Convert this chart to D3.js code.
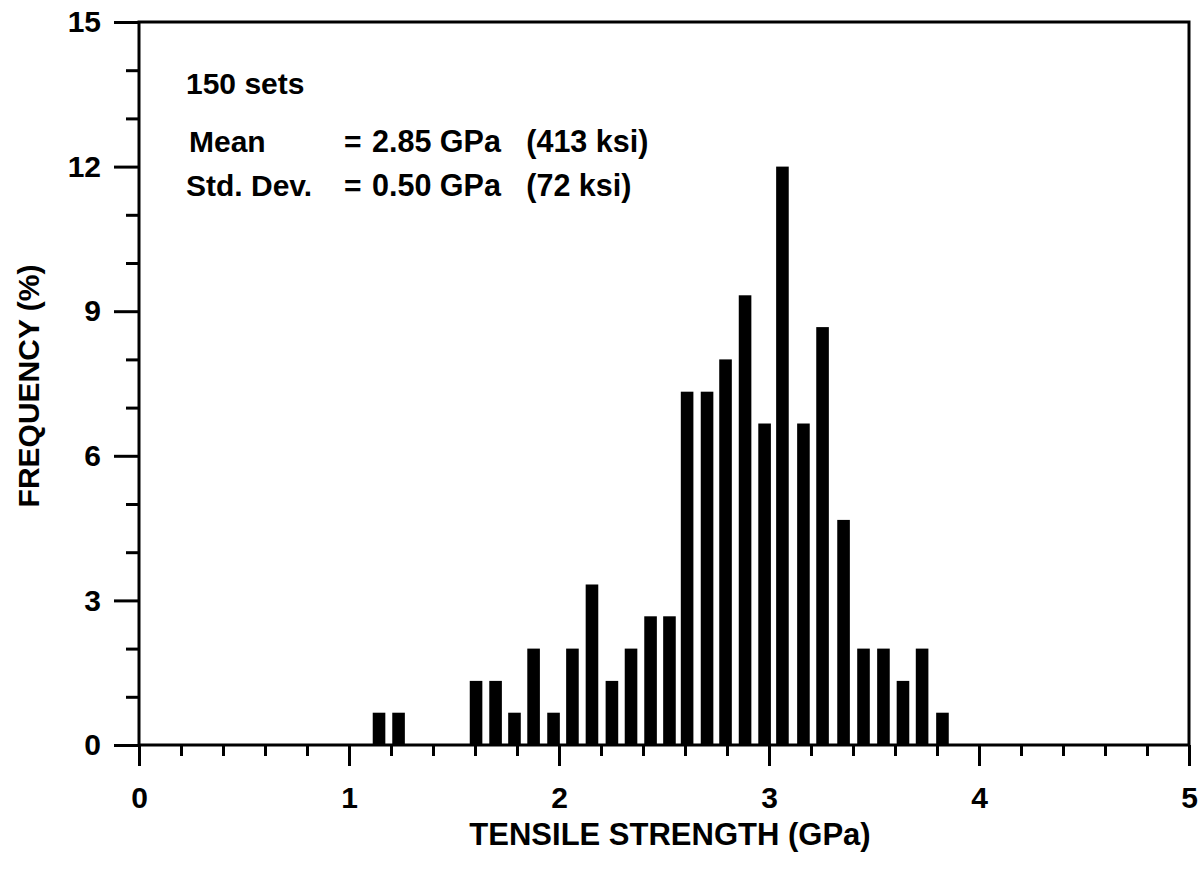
<!DOCTYPE html>
<html>
<head>
<meta charset="utf-8">
<script src="https://cdn.jsdelivr.net/npm/d3@7"></script>
<style>
  html, body { margin: 0; padding: 0; background: #fff; }
  svg { display: block; }
  text { font-family: "Liberation Sans", Arial, Helvetica, sans-serif; font-weight: bold; fill: #000; }
</style>
</head>
<body>
<svg id="chart" width="1200" height="875"></svg>
<script>
// ---- data ----
const binCenters = [1.143, 1.236, 1.605, 1.698, 1.788, 1.879, 1.974, 2.064, 2.157, 2.252,
  2.343, 2.436, 2.526, 2.610, 2.705, 2.793, 2.886, 2.979, 3.064, 3.164,
  3.255, 3.355, 3.450, 3.545, 3.638, 3.729, 3.826];
const frequency = [0.67, 0.67, 1.33, 1.33, 0.67, 2.00, 0.67, 2.00, 3.33, 1.33,
  2.00, 2.67, 2.67, 7.33, 7.33, 8.00, 9.33, 6.67, 12.00, 6.67,
  8.67, 4.67, 2.00, 2.00, 1.33, 2.00, 0.67];
const xMajorTicks = [0, 1, 2, 3, 4, 5];
const xMinorTicks = [0.2,0.4,0.6,0.8,1.2,1.4,1.6,1.8,2.2,2.4,2.6,2.8,3.2,3.4,3.6,3.8,4.2,4.4,4.6,4.8];
const yMajorTicks = [0, 3, 6, 9, 12, 15];
const yMinorTicks = [1, 2, 4, 5, 7, 8, 10, 11, 13, 14];
const statLabels = ["150 sets", "Mean", "Std. Dev."];
const statValues = ["", "2.85 GPa   (413 ksi)", "0.50 GPa   (72 ksi)"];
const xTitle = "TENSILE STRENGTH (GPa)";
const yTitle = "FREQUENCY (%)";
const binWidth = 0.06;

// ---- layout ----
const svg = d3.select("#chart");
const x = d3.scaleLinear().domain([0, 5]).range([139, 1189]);
const y = d3.scaleLinear().domain([0, 15]).range([745, 22]);
const FONT = "'Liberation Sans', Arial, sans-serif";

// bars
svg.append("g").selectAll("rect")
  .data(binCenters.map((c, i) => ({ c, v: frequency[i] })))
  .join("rect")
  .attr("x", d => x(d.c - binWidth / 2))
  .attr("width", d => x(d.c + binWidth / 2) - x(d.c - binWidth / 2))
  .attr("y", d => y(d.v))
  .attr("height", d => y(0) - y(d.v))
  .attr("fill", "#000");

function styleAxis(g) {
  g.selectAll(".tick line").attr("stroke", "#000").attr("stroke-width", 3);
  g.select(".domain").remove();
  g.attr("font-size", null).attr("font-family", null);
  g.selectAll(".tick text").style("font-size", "30px").style("font-family", FONT)
    .style("font-weight", "bold").attr("fill", "#000");
}

// x axis
svg.append("g").attr("transform", `translate(0,${y(0)})`)
  .call(d3.axisBottom(x).tickValues(xMinorTicks).tickSize(11).tickFormat(""))
  .call(styleAxis);
svg.append("g").attr("transform", `translate(0,${y(0)})`)
  .call(d3.axisBottom(x).tickValues(xMajorTicks).tickSize(21).tickPadding(21).tickFormat(d3.format("d")))
  .call(styleAxis);

// y axis
svg.append("g").attr("transform", `translate(${x(0)},0)`)
  .call(d3.axisLeft(y).tickValues(yMinorTicks).tickSize(13).tickFormat(""))
  .call(styleAxis);
svg.append("g").attr("transform", `translate(${x(0)},0)`)
  .call(d3.axisLeft(y).tickValues(yMajorTicks).tickSize(25).tickPadding(13).tickFormat(d3.format("d")))
  .call(styleAxis);

// frame
const [x0, x1] = x.range();
const [y0, y1] = y.range();
svg.append("path")
  .attr("d", `M${x0},${y0}H${x1}V${y1}H${x0}Z`)
  .attr("fill", "none").attr("stroke", "#000").attr("stroke-width", 3);

// stats text
const statY = [94, 152, 196];
const statX = [186, 189, 186];
statLabels.forEach((lab, i) => {
  svg.append("text").attr("x", statX[i]).attr("y", statY[i]).style("font-size", "30px").text(lab);
  if (statValues[i]) {
    svg.append("text").attr("x", 344).attr("y", statY[i]).style("font-size", "30px").text("=");
    svg.append("text").attr("x", 372).attr("y", statY[i]).style("font-size", "30.5px")
      .attr("xml:space", "preserve").style("white-space", "pre").text(statValues[i]);
  }
});

// axis titles
svg.append("text").attr("x", 670).attr("y", 845).attr("text-anchor", "middle").style("font-size", "31px").text(xTitle);
svg.append("text").attr("transform", "translate(39,386) rotate(-90)").attr("text-anchor", "middle").style("font-size", "30px").text(yTitle);
</script>
</body>
</html>
